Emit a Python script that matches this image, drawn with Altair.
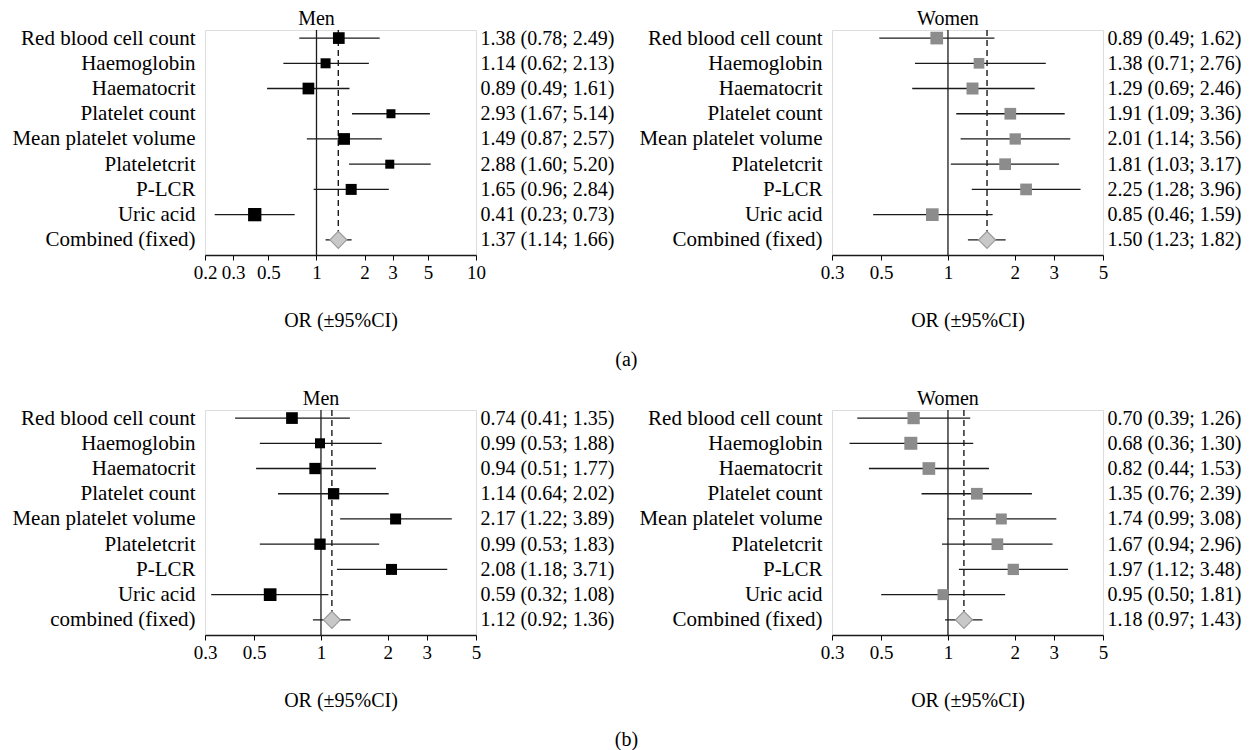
import json
import math
import altair as alt
import pandas as pd

FONT = "Liberation Serif"

labels_std = ["Red blood cell count", "Haemoglobin", "Haematocrit", "Platelet count",
              "Mean platelet volume", "Plateletcrit", "P-LCR", "Uric acid", "Combined (fixed)"]
labels_b_men = labels_std[:-1] + ["combined (fixed)"]

# (a) Men
a_men_or = [1.38, 1.14, 0.89, 2.93, 1.49, 2.88, 1.65, 0.41, 1.37]
a_men_lo = [0.78, 0.62, 0.49, 1.67, 0.87, 1.60, 0.96, 0.23, 1.14]
a_men_hi = [2.49, 2.13, 1.61, 5.14, 2.57, 5.20, 2.84, 0.73, 1.66]
a_men_w = [13.7, 10.0, 13.7, 8.1, 13.7, 8.1, 12.1, 17.7]

# (a) Women
a_wom_or = [0.89, 1.38, 1.29, 1.91, 2.01, 1.81, 2.25, 0.85, 1.50]
a_wom_lo = [0.49, 0.71, 0.69, 1.09, 1.14, 1.03, 1.28, 0.46, 1.23]
a_wom_hi = [1.62, 2.76, 2.46, 3.36, 3.56, 3.17, 3.96, 1.59, 1.82]
a_wom_w = [16.1, 11.4, 14.4, 13.7, 12.8, 13.7, 13.7, 16.1]

# (b) Men
b_men_or = [0.74, 0.99, 0.94, 1.14, 2.17, 0.99, 2.08, 0.59, 1.12]
b_men_lo = [0.41, 0.53, 0.51, 0.64, 1.22, 0.53, 1.18, 0.32, 0.92]
b_men_hi = [1.35, 1.88, 1.77, 2.02, 3.89, 1.83, 3.71, 1.08, 1.36]
b_men_w = [13.7, 10.0, 12.8, 12.8, 12.1, 12.8, 12.1, 16.1]

# (b) Women
b_wom_or = [0.70, 0.68, 0.82, 1.35, 1.74, 1.67, 1.97, 0.95, 1.18]
b_wom_lo = [0.39, 0.36, 0.44, 0.76, 0.99, 0.94, 1.12, 0.50, 0.97]
b_wom_hi = [1.26, 1.30, 1.53, 2.39, 3.08, 2.96, 3.48, 1.81, 1.43]
b_wom_w = [15.1, 16.9, 16.1, 13.7, 12.1, 13.7, 12.8, 12.1]

ticks_wide = [0.2, 0.3, 0.5, 1, 2, 3, 5, 10]
ticks_std = [0.3, 0.5, 1, 2, 3, 5]

W = 271
H = 225
Y_DOMAIN = [-0.32, 8.6]
LINE = "#1a1a1a"


def panel(title, labels, ors, los, his, ws, color, ticks):
    n = len(labels)
    ci = [f"{o:.2f} ({l:.2f}; {h:.2f})" for o, l, h in zip(ors, los, his)]
    df = pd.DataFrame({
        "row": list(range(n)),
        "label": labels,
        "or": ors,
        "lo": los,
        "hi": his,
        "w": ws + [None],
        "ci": ci,
    })
    dom = [ticks[0], ticks[-1]]
    xscale = alt.Scale(type="log", domain=dom, nice=False)
    yscale = alt.Scale(domain=Y_DOMAIN, reverse=True, nice=False, zero=False)
    xaxis = alt.Axis(values=ticks, format="~g", grid=False, labelOverlap=False, labelFlush=False,
                     tickSize=5, tickColor="black", domainColor=LINE, domainWidth=1.5,
                     labelFontSize=19, labelPadding=3, labelFont=FONT, labelColor="black",
                     title="OR (±95%CI)", titleFontSize=20, titleFont=FONT, titleFontWeight="normal",
                     titlePadding=28, titleColor="black")
    left_axis = alt.Axis(orient="left", values=list(range(n)),
                         labelExpr=f"{json.dumps(labels)}[datum.value]",
                         ticks=False, domain=False, grid=False, title=None, labelOverlap=False,
                         labelLimit=0,
                         labelFontSize=21, labelFont=FONT, labelColor="black", labelPadding=10)
    right_axis = alt.Axis(orient="right", values=list(range(n)),
                          labelExpr=f"{json.dumps(ci)}[datum.value]",
                          ticks=False, domain=False, grid=False, title=None, labelOverlap=False,
                          labelLimit=0,
                          labelFontSize=20, labelFont=FONT, labelColor="black", labelPadding=4)

    base = alt.Chart(df)
    comb = df[df.row == n - 1]

    ci_lines = base.mark_rule(color=LINE, strokeWidth=1.3).encode(
        x=alt.X("lo:Q", scale=xscale, axis=xaxis),
        x2="hi:Q",
        y=alt.Y("row:Q", scale=yscale, axis=left_axis),
    )
    one_line = alt.Chart(comb).mark_rule(color=LINE, strokeWidth=1.3).encode(
        x=alt.XDatum(1, type="quantitative"),
    )
    dashed = alt.Chart(comb).mark_rule(color=LINE, strokeWidth=1.4, strokeDash=[6, 4]).encode(
        x=alt.X("or:Q"),
        y=alt.YDatum(Y_DOMAIN[0], type="quantitative", axis=None),
        y2=alt.Y2Datum(n - 1),
    )
    squares = base.transform_filter(alt.datum.row < n - 1).mark_point(
        shape="square", filled=True, opacity=1, color=color).encode(
        x=alt.X("or:Q"),
        y=alt.Y("row:Q", axis=right_axis),
        size=alt.Size("w:Q", scale=alt.Scale(domain=[0, 20], range=[0, 200], zero=True), legend=None),
    )
    diamond = alt.Chart(comb).mark_point(shape="diamond", filled=True, fill="#c8c8c8",
                                         stroke="#9a9a9a", strokeWidth=1.2, opacity=1,
                                         size=289).encode(
        x=alt.X("or:Q"),
        y=alt.Y("row:Q", axis=None),
    )

    x1 = W * (math.log(1) - math.log(dom[0])) / (math.log(dom[1]) - math.log(dom[0]))
    return alt.layer(one_line, dashed, ci_lines, squares, diamond).resolve_axis(
        y="independent").properties(
        width=W, height=H,
        title=alt.TitleParams(title, anchor="start", align="center", frame="group", dx=x1,
                              fontSize=20, font=FONT, fontWeight="normal", color="black", offset=-2),
    )


pa_men = panel("Men", labels_std, a_men_or, a_men_lo, a_men_hi, a_men_w, "black", ticks_wide)
pa_wom = panel("Women", labels_std, a_wom_or, a_wom_lo, a_wom_hi, a_wom_w, "#8c8c8c", ticks_std)
pb_men = panel("Men", labels_b_men, b_men_or, b_men_lo, b_men_hi, b_men_w, "black", ticks_std)
pb_wom = panel("Women", labels_std, b_wom_or, b_wom_lo, b_wom_hi, b_wom_w, "#8c8c8c", ticks_std)

sub = dict(orient="bottom", anchor="middle", fontSize=20, font=FONT, fontWeight="normal",
           color="black", offset=19)
row_a = alt.hconcat(pa_men, pa_wom, spacing=23).properties(title=alt.TitleParams("(a)", **sub))
row_b = alt.hconcat(pb_men, pb_wom, spacing=23).properties(title=alt.TitleParams("(b)", **sub))

chart = alt.vconcat(row_a, row_b, spacing=18).properties(
    padding={"left": 3, "top": 0, "right": 0, "bottom": 0}
).configure_view(stroke=None).configure(font=FONT)

chart.save("out.html", embed_options={"renderer": "svg", "actions": False})
